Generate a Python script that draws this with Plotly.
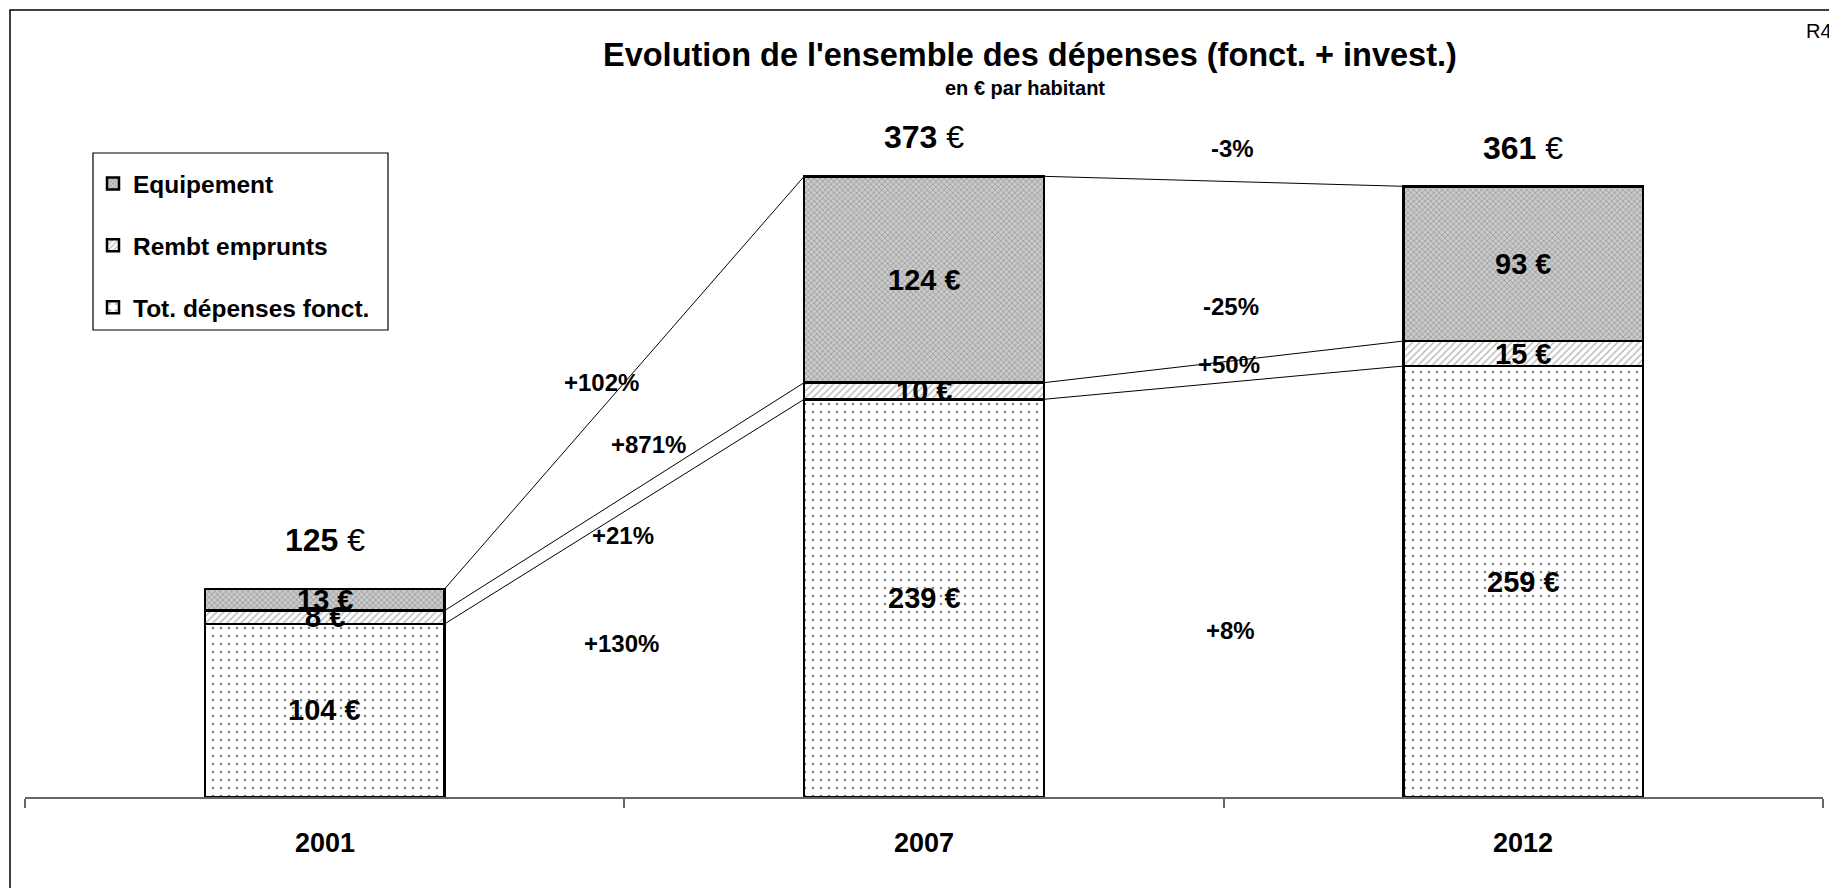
import plotly.graph_objects as go

# ---- data ----
years = ["2001", "2007", "2012"]
fonct = [104, 239, 259]        # Tot. dépenses fonct.
rembt = [8, 10, 15]            # Rembt emprunts
equip = [13, 124, 93]          # Equipement
totals = [125, 373, 361]       # total labels
pct_labels = ["+102%", "+871%", "+21%", "+130%", "-3%", "-25%", "+50%", "+8%"]

# ---- layout helpers ----
pct_x = [0.462, 0.541, 0.498, 0.496, 1.514, 1.512, 1.509, 1.512]
pct_y = [249, 212, 157, 92, 390, 295, 260, 100]
total_shift = [49, 39, 38]

W, H = 1829, 888
ML, MR, MT, MB = 25, 6, 40, 91
PW, PH = W - ML - MR, H - MT - MB
FONT = "Arial, Liberation Sans, sans-serif"
BW = 0.4
xs = list(range(len(years)))


def px_x(p):
    return (p - ML) / PW


def px_y(p):
    return 1 - (p - MT) / PH


fig = go.Figure()
fig.add_trace(go.Bar(
    x=xs, y=fonct, width=BW, name="<b>Tot. dépenses fonct.</b>",
    marker=dict(color="white", line=dict(color="black", width=2.5),
                pattern=dict(shape=".", fgcolor="black", bgcolor="white", size=8, solidity=0.08)),
    legendgroup="c", legendrank=3, hoverinfo="skip"))
fig.add_trace(go.Bar(
    x=xs, y=rembt, width=BW, name="<b>Rembt emprunts</b>",
    marker=dict(color="white", line=dict(color="black", width=2.5),
                pattern=dict(shape="/", fgcolor="#7a7a7a", bgcolor="white", size=5, solidity=0.3)),
    legendgroup="b", legendrank=2, hoverinfo="skip"))
fig.add_trace(go.Bar(
    x=xs, y=equip, width=BW, name="<b>Equipement</b>",
    marker=dict(color="white", line=dict(color="black", width=2.5),
                pattern=dict(shape="x", fgcolor="#555555", bgcolor="#cacaca", size=4, solidity=0.3)),
    legendgroup="a", legendrank=1, hoverinfo="skip"))

# connector lines between consecutive bars
lv1 = fonct
lv2 = [f + r for f, r in zip(fonct, rembt)]
lv3 = [f + r + e for f, r, e in zip(fonct, rembt, equip)]
for lv in (lv1, lv2, lv3):
    cx, cy = [], []
    for i in range(len(xs) - 1):
        cx += [xs[i] + BW / 2, xs[i + 1] - BW / 2, None]
        cy += [lv[i], lv[i + 1], None]
    fig.add_trace(go.Scatter(x=cx, y=cy, mode="lines", line=dict(color="black", width=1),
                             showlegend=False, hoverinfo="skip"))

ann = []
# segment labels
for i in xs:
    for base, val in ((0, fonct[i]), (lv1[i], rembt[i]), (lv2[i], equip[i])):
        ann.append(dict(x=xs[i], y=base + val / 2, text=f"<b>{val} €</b>", showarrow=False,
                        font=dict(size=29, color="black", family=FONT), xref="x", yref="y"))
# total labels
for i in xs:
    ann.append(dict(x=xs[i], y=lv3[i], yshift=total_shift[i], text=f"<b>{totals[i]}</b> €",
                    showarrow=False, font=dict(size=32, color="black", family=FONT)))
# percentage labels
for t, px_, py_ in zip(pct_labels, pct_x, pct_y):
    ann.append(dict(x=px_, y=py_, text=f"<b>{t}</b>", showarrow=False,
                    font=dict(size=24, color="black", family=FONT)))
# year labels
for i in xs:
    ann.append(dict(x=xs[i], y=px_y(843), xref="x", yref="paper", text=f"<b>{years[i]}</b>",
                    showarrow=False, font=dict(size=27, color="black", family=FONT), yanchor="middle"))
# title & subtitle
ann.append(dict(x=px_x(1030), y=px_y(55), xref="paper", yref="paper",
                text="<b>Evolution de l'ensemble des dépenses (fonct. + invest.)</b>", showarrow=False,
                font=dict(size=32.5, color="black", family=FONT), yanchor="middle"))
ann.append(dict(x=px_x(1025), y=px_y(88), xref="paper", yref="paper",
                text="<b>en € par habitant</b>", showarrow=False,
                font=dict(size=20, color="black", family=FONT), yanchor="middle"))
ann.append(dict(x=px_x(1804), y=px_y(31), xref="paper", yref="paper",
                text="R4", showarrow=False, xanchor="left",
                font=dict(size=20, color="black", family=FONT), yanchor="middle"))

fig.update_layout(
    width=W, height=H, margin=dict(l=ML, r=MR, t=MT, b=MB, pad=0),
    paper_bgcolor="white", plot_bgcolor="white",
    barmode="stack", annotations=ann,
    font=dict(family=FONT, color="black"),
    xaxis=dict(range=[-0.5, 2.5], tickvals=[-0.5, 0.5, 1.5, 2.5], ticktext=["", "", "", ""],
               ticks="outside", ticklen=9, tickcolor="#666666", tickwidth=1.5,
               showline=True, linecolor="#666666", linewidth=1.5,
               showgrid=False, zeroline=False, fixedrange=True),
    yaxis=dict(range=[0, PH / 1.664], visible=False, showgrid=False, zeroline=False, fixedrange=True),
    legend=dict(x=px_x(93), y=px_y(161), xanchor="left", yanchor="top",
                traceorder="grouped", tracegroupgap=27,
                borderwidth=0, bgcolor="rgba(0,0,0,0)",
                font=dict(size=24.5, color="black", family=FONT), itemwidth=30),
    shapes=[
        dict(type="rect", xref="paper", yref="paper",
             x0=px_x(10), x1=px_x(W + 20), y0=px_y(H + 20), y1=px_y(10),
             line=dict(color="black", width=1.5), fillcolor="rgba(0,0,0,0)", layer="below"),
        dict(type="rect", xref="paper", yref="paper",
             x0=px_x(93), x1=px_x(388), y0=px_y(330), y1=px_y(153),
             line=dict(color="black", width=1.2), fillcolor="white", layer="below"),
    ],
)

fig.write_html("out.html", config={"displayModeBar": False},
               post_script="document.body.style.margin='0';document.body.style.overflow='hidden';")
